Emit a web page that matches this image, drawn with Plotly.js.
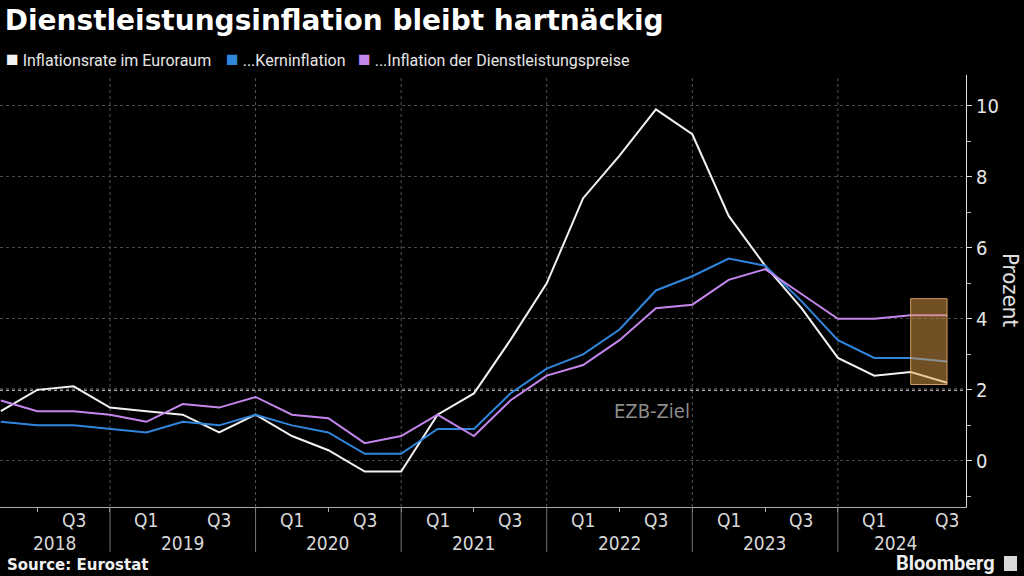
<!DOCTYPE html>
<html>
<head>
<meta charset="utf-8">
<script src="https://cdn.plot.ly/plotly-3.0.1.min.js"></script>
<style>html,body{margin:0;padding:0;background:#000;}#chart{width:1024px;height:576px;}</style>
</head>
<body>
<div id="chart"></div>
<script>
// ---- data ----
const periods = ['2018 Q1','2018 Q2','2018 Q3','2018 Q4','2019 Q1','2019 Q2','2019 Q3','2019 Q4',
  '2020 Q1','2020 Q2','2020 Q3','2020 Q4','2021 Q1','2021 Q2','2021 Q3','2021 Q4',
  '2022 Q1','2022 Q2','2022 Q3','2022 Q4','2023 Q1','2023 Q2','2023 Q3','2023 Q4',
  '2024 Q1','2024 Q2','2024 Q3'];
const inflation = [1.4,2.0,2.1,1.5, 1.4,1.3,0.8,1.3, 0.7,0.3,-0.3,-0.3, 1.3,1.9,3.4,5.0, 7.4,8.6,9.9,9.2, 6.9,5.5,4.3,2.9, 2.4,2.5,2.2];
const core      = [1.1,1.0,1.0,0.9, 0.8,1.1,1.0,1.3, 1.0,0.8,0.2,0.2, 0.9,0.9,1.9,2.6, 3.0,3.7,4.8,5.2, 5.7,5.5,4.5,3.4, 2.9,2.9,2.8];
const services  = [1.7,1.4,1.4,1.3, 1.1,1.6,1.5,1.8, 1.3,1.2,0.5,0.7, 1.3,0.7,1.7,2.4, 2.7,3.4,4.3,4.4, 5.1,5.4,4.7,4.0, 4.0,4.1,4.1];
const seriesNames = ['Inflationsrate im Euroraum','...Kerninflation','...Inflation der Dienstleistungspreise'];
const seriesColors = ['#f2f2f2','#2f86dc','#c486ec'];
const years = ['2018','2019','2020','2021','2022','2023','2024'];
const yearLabelPos = [1.5,5,9,13,17,21,24.6];
const quarterTickText = ['Q1','Q3'];
const ecbTarget = 2;
const highlightX = [25,26];
const highlightY = [2.15,4.57];

const idx = periods.map((_, i) => i);
const condensed = '"Liberation Sans Narrow", "DejaVu Sans Condensed", Roboto, sans-serif';

const traces = [inflation, core, services].map((vals, k) => ({
  x: idx, y: vals, type: 'scatter', mode: 'lines', name: seriesNames[k],
  line: {color: seriesColors[k], width: 2}, showlegend: false, hoverinfo: 'skip'
}));

const shapes = [];
const annotations = [];

// quarter labels at Q1 and Q3 (first point sits on the left edge, so no label there)
periods.forEach((p, i) => {
  if (i === 0) return;
  const q = p.split(' ')[1];
  const t = q === 'Q1' ? quarterTickText[0] : (q === 'Q3' ? quarterTickText[1] : null);
  if (t) annotations.push({text:t, xref:'x', yref:'paper', x:i, y:-(520-507)/432, showarrow:false,
    xanchor:'center', yanchor:'middle', font:{family:condensed, size:19, color:'#d8d8d8'}});
});

// year separators at Q4 points
periods.forEach((p, i) => {
  if (p.endsWith('Q4')) {
    shapes.push({type:'line', xref:'x', yref:'paper', x0:i, x1:i, y0:0, y1:1,
      line:{color:'#555', width:1, dash:'dot'}, layer:'below'});
    shapes.push({type:'line', xref:'x', yref:'paper', x0:i, x1:i, y0:-0.104, y1:0,
      line:{color:'#777', width:1}});
  }
});
// EZB target line
shapes.push({type:'line', xref:'paper', yref:'y', x0:0, x1:1, y0:ecbTarget, y1:ecbTarget,
  line:{color:'#e0e0e0', width:2, dash:'dot'}, layer:'below'});
// highlight box
shapes.push({type:'rect', xref:'x', yref:'y', x0:highlightX[0], x1:highlightX[1], y0:highlightY[0], y1:highlightY[1],
  fillcolor:'rgba(225,158,72,0.5)', line:{color:'rgba(235,180,110,0.85)', width:1}, layer:'above'});
// bloomberg logo square
shapes.push({type:'rect', xref:'paper', yref:'paper', x0:1004/966, x1:1017/966, y0:-(556-507)/432, y1:-(571-507)/432,
  fillcolor:'#d8d8d8', line:{width:0}});

years.forEach((y, k) => annotations.push({
  text: y, xref:'x', yref:'paper', x: yearLabelPos[k], y: -(543-507)/432, showarrow:false,
  xanchor:'center', yanchor:'middle', font:{family:condensed, size:19, color:'#d8d8d8'}
}));

annotations.push({text:'EZB-Ziel', xref:'x', yref:'y', x:17.9, y:1.4, showarrow:false,
  xanchor:'center', yanchor:'middle', font:{family:condensed, size:20, color:'#8c8c8c'}});
annotations.push({text:'Prozent', xref:'paper', yref:'paper', x:(1011-0)/966, y:(507-290)/432, showarrow:false,
  textangle:90, xanchor:'center', yanchor:'middle', font:{family:condensed, size:22, color:'#e0e0e0'}});

// legend
const legendX = [4, 224, 356];
seriesNames.forEach((n, k) => annotations.push({
  text: '<span style="color:' + seriesColors[k] + ';font-size:21px">■</span> ' + n,
  xref:'paper', yref:'paper', x: legendX[k]/966, y:(507-59)/432, showarrow:false,
  xanchor:'left', yanchor:'middle', font:{family:'Roboto, sans-serif', size:16, color:'#e6e6e6'}
}));

annotations.push({text:'<b>Source: Eurostat</b>', xref:'paper', yref:'paper', x:5/966, y:-(565-507)/432,
  showarrow:false, xanchor:'left', yanchor:'middle', font:{family:'"DejaVu Sans", sans-serif', size:15, color:'#f0f0f0'}});
annotations.push({text:'<b>Bloomberg</b>', xref:'paper', yref:'paper', x:997/966, y:-(563-507)/432,
  showarrow:false, xanchor:'right', yanchor:'middle', font:{family:'Roboto, sans-serif', size:20, color:'#f0f0f0'}});

const layout = {
  width:1024, height:576,
  paper_bgcolor:'#000', plot_bgcolor:'#000',
  margin:{l:0, r:58, t:75, b:69},
  title:{text:'<b>Dienstleistungsinflation bleibt hartnäckig</b>', x:5/1024, xanchor:'left', xref:'paper',
    y:1-20/576, yanchor:'middle', yref:'container', font:{family:'"DejaVu Sans", sans-serif', size:28, color:'#ffffff'}},
  showlegend:false,
  xaxis:{range:[-0.022, 26.52], showgrid:false, zeroline:false, showline:true, linecolor:'#aaa', linewidth:1,
    showticklabels:false, ticks:'',
    minor:{tickmode:'linear', tick0:1, dtick:2, ticks:'outside', ticklen:4, tickcolor:'#aaa', showgrid:false},
    fixedrange:true},
  yaxis:{range:[-1.30, 10.87], side:'right', showline:true, linecolor:'#e0e0e0', linewidth:1,
    tickvals:[0,2,4,6,8,10], ticks:'outside', ticklen:5, tickcolor:'#e0e0e0',
    minor:{tickmode:'linear', tick0:1, dtick:2, ticks:'outside', ticklen:4, tickcolor:'#bbb', showgrid:false},
    showgrid:true, gridcolor:'#4a4a4a', griddash:'dot', gridwidth:1, zeroline:false,
    tickfont:{family:condensed, size:20, color:'#e6e6e6'}, fixedrange:true},
  shapes:shapes, annotations:annotations
};
Plotly.newPlot('chart', traces, layout, {displayModeBar:false, staticPlot:true});
</script>
</body>
</html>
